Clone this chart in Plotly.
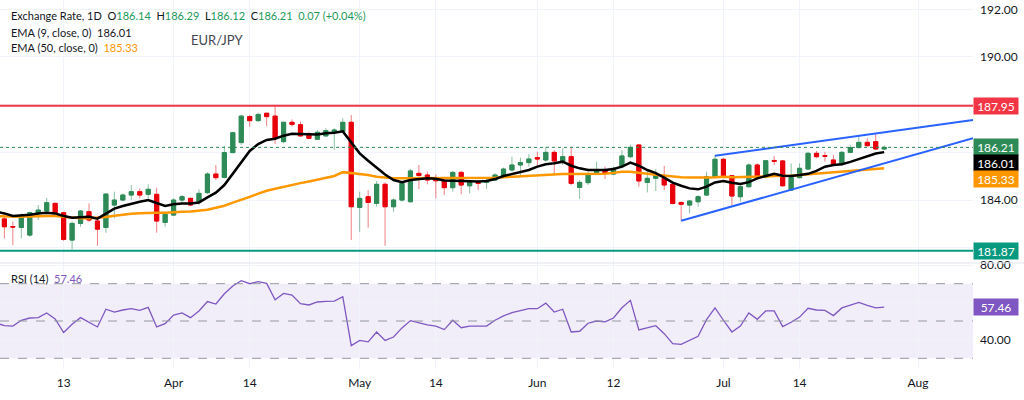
import pandas as pd
import plotly.graph_objects as go
from plotly.subplots import make_subplots

# daily bars, Mar 3 .. Jul 28 (weekdays)
dates = pd.bdate_range("2026-03-03", "2026-07-28").strftime("%Y-%m-%d").tolist()

open_ = [183.35, 183.21, 182.89, 182.85, 182.53, 183.47, 183.54, 183.86, 183.47, 182.32,
         183.02, 183.51, 183.12, 182.85, 183.79, 184.00, 184.21, 184.35, 184.24, 184.24,
         183.06, 183.37, 184.00, 184.07, 183.93, 184.31, 185.09, 184.95, 185.99, 186.41,
         187.50, 187.33, 187.64, 187.52, 186.45, 187.26, 187.16, 186.76, 186.55, 186.69,
         186.84, 186.87, 187.26, 183.69, 184.14, 183.86, 184.66, 183.72, 184.00, 183.93,
         185.12, 185.05, 184.91, 184.80, 184.52, 185.16, 184.60, 184.74, 184.74, 184.84,
         184.98, 185.26, 185.47, 185.57, 185.78, 185.68, 186.00, 185.64, 185.82, 184.53,
         184.73, 185.08, 185.22, 185.09, 185.40, 185.82, 186.31, 184.74, 184.91, 184.91,
         184.66, 183.90, 183.79, 183.93, 184.21, 184.98, 185.71, 185.02, 184.14, 184.56,
         185.47, 184.98, 185.66, 185.64, 184.42, 184.94, 185.30, 185.96, 185.86, 185.68,
         185.50, 186.00, 186.20, 186.42, 186.45, 186.14]
high = [183.55, 183.30, 183.09, 183.44, 183.51, 183.79, 184.10, 183.89, 183.51, 183.09,
        183.58, 183.86, 183.30, 184.28, 184.35, 184.28, 184.63, 184.49, 184.66, 184.52,
        183.51, 184.07, 184.21, 184.11, 184.45, 185.17, 185.47, 186.27, 186.87, 187.57,
        187.57, 187.66, 187.66, 187.99, 187.29, 187.38, 187.29, 186.87, 186.94, 187.01,
        187.01, 187.43, 187.57, 184.35, 184.42, 184.80, 184.74, 184.07, 184.77, 185.30,
        185.47, 185.19, 185.08, 184.91, 185.22, 185.22, 184.84, 184.84, 184.91, 185.12,
        185.36, 185.82, 185.78, 185.92, 186.03, 186.24, 186.10, 186.17, 186.24, 184.84,
        185.19, 185.61, 185.40, 185.40, 186.10, 186.33, 186.34, 185.26, 185.30, 185.43,
        184.70, 183.93, 184.00, 184.21, 185.19, 185.89, 185.75, 185.05, 184.70, 185.54,
        185.54, 185.68, 185.85, 185.68, 185.54, 185.54, 186.03, 186.06, 186.03, 185.89,
        186.06, 186.31, 186.66, 186.59, 186.76, 186.29]
low = [183.05, 182.39, 182.11, 182.39, 182.46, 183.16, 183.47, 183.33, 182.29, 181.93,
       182.88, 183.09, 182.08, 182.63, 183.23, 183.96, 184.00, 184.07, 184.07, 182.63,
       182.88, 183.33, 183.83, 183.76, 183.79, 184.25, 184.84, 184.91, 185.96, 186.31,
       187.08, 187.29, 187.10, 186.35, 186.38, 187.08, 186.66, 186.55, 186.52, 186.66,
       186.10, 186.82, 182.32, 182.67, 182.84, 183.72, 182.08, 183.51, 183.93, 183.90,
       184.46, 184.66, 184.07, 184.21, 184.35, 184.24, 184.28, 184.42, 184.46, 184.80,
       184.94, 185.19, 184.98, 185.40, 185.47, 185.61, 185.12, 185.47, 184.63, 184.04,
       184.63, 185.05, 184.88, 185.05, 185.33, 185.75, 184.56, 184.32, 184.38, 184.42,
       183.82, 183.12, 183.44, 183.72, 184.18, 184.91, 184.94, 183.79, 183.93, 184.52,
       184.91, 184.91, 185.47, 184.56, 184.38, 184.91, 185.26, 185.75, 185.61, 185.47,
       185.44, 185.96, 186.17, 186.24, 186.11, 186.12]
close = [183.19, 182.88, 182.87, 183.30, 183.47, 183.58, 183.89, 183.44, 182.35, 183.02,
         183.54, 183.16, 182.78, 184.25, 184.00, 184.21, 184.35, 184.21, 184.45, 183.12,
         183.40, 184.00, 184.14, 183.79, 184.28, 185.09, 184.94, 185.99, 186.82, 187.52,
         187.33, 187.59, 187.50, 186.59, 187.26, 187.17, 186.69, 186.59, 186.84, 186.91,
         186.94, 187.26, 183.72, 184.07, 183.90, 184.66, 183.72, 184.00, 184.70, 185.22,
         185.03, 184.84, 184.81, 184.52, 185.16, 184.63, 184.77, 184.70, 184.80, 185.05,
         185.30, 185.47, 185.57, 185.72, 185.72, 186.00, 185.64, 185.82, 184.70, 184.74,
         185.09, 185.22, 185.15, 185.33, 185.85, 186.21, 184.80, 184.91, 185.02, 184.63,
         183.86, 183.82, 183.96, 184.14, 184.98, 185.71, 184.98, 184.17, 184.56, 185.47,
         184.98, 185.65, 185.63, 184.60, 184.94, 185.33, 185.96, 185.82, 185.84, 185.51,
         186.00, 186.20, 186.42, 186.28, 186.14, 186.21]

ema9 = [183.51, 183.44, 183.33, 183.34, 183.38, 183.44, 183.47, 183.44, 183.33, 183.26,
        183.29, 183.30, 183.22, 183.44, 183.64, 183.75, 183.85, 183.93, 184.00, 183.86,
        183.75, 183.82, 183.86, 183.86, 183.90, 184.11, 184.31, 184.63, 185.12, 185.61,
        186.06, 186.35, 186.52, 186.57, 186.70, 186.78, 186.77, 186.74, 186.75, 186.80,
        186.82, 186.88, 186.41, 185.96, 185.65, 185.34, 185.07, 184.84, 184.75, 184.84,
        184.89, 184.91, 184.89, 184.82, 184.81, 184.80, 184.78, 184.78, 184.80, 184.88,
        185.01, 185.09, 185.15, 185.26, 185.40, 185.50, 185.54, 185.61, 185.44, 185.33,
        185.26, 185.26, 185.26, 185.30, 185.40, 185.57, 185.44, 185.26, 185.13, 184.94,
        184.73, 184.60, 184.49, 184.45, 184.56, 184.74, 184.80, 184.73, 184.67, 184.75,
        184.91, 185.01, 185.10, 185.02, 185.01, 185.05, 185.10, 185.22, 185.40, 185.47,
        185.50, 185.60, 185.72, 185.84, 185.95, 186.01]
ema50 = [183.33, 183.31, 183.30, 183.30, 183.31, 183.33, 183.33, 183.33, 183.29, 183.26,
         183.24, 183.24, 183.25, 183.29, 183.34, 183.40, 183.43, 183.45, 183.47, 183.47,
         183.47, 183.50, 183.51, 183.52, 183.55, 183.59, 183.68, 183.76, 183.89, 184.00,
         184.13, 184.27, 184.39, 184.47, 184.56, 184.64, 184.71, 184.78, 184.85, 184.92,
         185.01, 185.17, 185.14, 185.10, 185.05, 184.98, 184.94, 184.91, 184.91, 184.91,
         184.91, 184.91, 184.91, 184.91, 184.91, 184.91, 184.91, 184.91, 184.91, 184.94,
         184.96, 184.98, 185.01, 185.03, 185.05, 185.06, 185.08, 185.09, 185.09, 185.09,
         185.09, 185.09, 185.10, 185.14, 185.19, 185.19, 185.16, 185.10, 185.06, 185.02,
         184.98, 184.96, 184.95, 184.94, 184.95, 184.96, 184.98, 184.96, 184.96, 184.98,
         184.99, 184.99, 185.01, 185.01, 185.02, 185.05, 185.08, 185.10, 185.13, 185.17,
         185.20, 185.24, 185.27, 185.30, 185.31, 185.33]
rsi = [49.0, 47.5, 47.3, 50.4, 51.6, 51.8, 54.3, 51.1, 43.8, 48.2,
       51.8, 49.1, 46.8, 56.3, 54.8, 55.9, 56.6, 55.7, 57.3, 46.8,
       48.6, 53.2, 54.3, 51.8, 55.4, 60.4, 59.1, 64.6, 68.8, 71.6,
       70.0, 71.1, 70.2, 61.4, 64.8, 63.9, 59.3, 58.6, 60.2, 60.5,
       60.7, 63.0, 36.8, 39.6, 38.8, 44.1, 39.6, 41.4, 46.3, 50.2,
       48.9, 47.9, 47.3, 45.4, 50.4, 46.4, 47.3, 47.3, 47.3, 50.4,
       52.7, 54.5, 55.4, 56.6, 56.6, 59.6, 54.8, 56.3, 44.1, 44.5,
       48.8, 50.0, 49.5, 51.6, 57.1, 61.1, 45.2, 46.4, 47.5, 43.2,
       37.9, 37.5, 39.5, 41.8, 50.7, 57.0, 50.4, 44.1, 47.3, 54.3,
       50.9, 55.4, 55.4, 47.0, 49.3, 52.1, 56.8, 55.9, 55.7, 52.9,
       57.0, 58.4, 60.0, 58.4, 57.0, 57.46]

resistance = 187.95
support = 181.87
# rising wedge drawn on the chart
upper_x = ["2026-06-30", "2026-08-11 12:00"]
upper_y = [185.86, 187.36]
lower_x = ["2026-06-24", "2026-08-11 12:00"]
lower_y = [183.13, 186.59]

tick_dates = ["2026-03-13", "2026-04-01", "2026-04-14", "2026-05-01", "2026-05-14",
              "2026-06-01", "2026-06-12", "2026-07-01", "2026-07-14", "2026-08-03"]
tick_text = ["13", "Apr", "14", "May", "14", "Jun", "12", "Jul", "14", "Aug"]

UP = "#2E8B57"
DOWN = "#E8000B"
FONT = "Lato"
PLOT_W = 973
PLOT_H = 369
SPLIT = 263

def px(x, y):
    return x / PLOT_W, 1 - y / PLOT_H

body_hi = [max(o, c) for o, c in zip(open_, close)]
body_lo = [min(o, c) for o, c in zip(open_, close)]

fig = make_subplots(rows=2, cols=1, shared_xaxes=True, vertical_spacing=0,
                    row_heights=[SPLIT / PLOT_H, 1 - SPLIT / PLOT_H])

# wicks (lighter) then solid bodies on top
fig.add_trace(go.Candlestick(x=dates, open=open_, high=high, low=low, close=close,
                             increasing=dict(line=dict(color="rgba(46,139,87,0.55)", width=1),
                                             fillcolor="rgba(46,139,87,0.55)"),
                             decreasing=dict(line=dict(color="rgba(232,0,11,0.5)", width=1),
                                             fillcolor="rgba(232,0,11,0.5)"),
                             hoverinfo="skip"), row=1, col=1)
fig.add_trace(go.Candlestick(x=dates, open=open_, high=body_hi, low=body_lo, close=close,
                             increasing=dict(line=dict(color=UP, width=1), fillcolor=UP),
                             decreasing=dict(line=dict(color=DOWN, width=1), fillcolor=DOWN),
                             hoverinfo="skip"), row=1, col=1)
fig.add_trace(go.Scatter(x=dates, y=ema50, mode="lines",
                         line=dict(color="#FF9800", width=2.5)), row=1, col=1)
fig.add_trace(go.Scatter(x=dates, y=ema9, mode="lines",
                         line=dict(color="#000000", width=2.5)), row=1, col=1)
fig.add_trace(go.Scatter(x=upper_x, y=upper_y, mode="lines",
                         line=dict(color="#2962FF", width=2)), row=1, col=1)
fig.add_trace(go.Scatter(x=lower_x, y=lower_y, mode="lines",
                         line=dict(color="#2962FF", width=2)), row=1, col=1)

# RSI pane
fig.add_shape(type="rect", xref="x2 domain", yref="y2", x0=0, x1=1, y0=30, y1=70,
              fillcolor="rgba(126,87,194,0.1)", line=dict(width=0), layer="below")
for lvl in [70, 50, 30]:
    fig.add_shape(type="line", xref="x2 domain", yref="y2", x0=0, x1=1, y0=lvl, y1=lvl,
                  line=dict(color="#9598A1", width=1, dash="dash"))
fig.add_trace(go.Scatter(x=dates, y=rsi, mode="lines",
                         line=dict(color="#7E57C2", width=1.3)), row=2, col=1)

# horizontal levels
fig.add_shape(type="line", xref="x domain", yref="y", x0=0, x1=1, y0=resistance, y1=resistance,
              line=dict(color="#F23645", width=2))
fig.add_shape(type="line", xref="x domain", yref="y", x0=0, x1=1, y0=support, y1=support,
              line=dict(color="#089981", width=2))
fig.add_shape(type="line", xref="x domain", yref="y", x0=0, x1=1, y0=close[-1], y1=close[-1],
              line=dict(color=UP, width=1, dash="dot"))
# pane separator
fig.add_shape(type="line", xref="paper", yref="paper", x0=0, x1=1.06,
              y0=1 - SPLIT / PLOT_H, y1=1 - SPLIT / PLOT_H, line=dict(color="#E0E3EB", width=1))

# price scale labels
def tag(yref, val, color, shift=0):
    fig.add_annotation(xref="paper", yref=yref, x=1, y=val, xanchor="left", yanchor="middle",
                       text=f"{val:.2f}", showarrow=False, bgcolor=color, width=42, height=14,
                       borderpad=1, yshift=shift, font=dict(color="white", size=12, family=FONT))

tag("y", resistance, "#F23645")
tag("y", close[-1], UP)
tag("y", ema9[-1], "#000000", -11)
tag("y", ema50[-1], "#FF9800", -11)
tag("y", support, "#089981")
tag("y2", rsi[-1], "#7E57C2")

# legend text
G = "#22995A"
nb = "\u00a0"
chg = close[-1] - close[-2]
pct = chg / close[-2] * 100
line1 = (f"Exchange Rate, 1D{nb*2}O<span style='color:{G}'>{open_[-1]:.2f}</span>{nb*2}"
         f"H<span style='color:{G}'>{high[-1]:.2f}</span>{nb*2}"
         f"L<span style='color:{G}'>{low[-1]:.2f}</span>{nb*2}"
         f"C<span style='color:{G}'>{close[-1]:.2f}</span>{nb*2}"
         f"<span style='color:{G}'>{chg:.2f} (+{pct:.2f}%)</span>")
line2 = f"EMA (9, close, 0){nb*2}{ema9[-1]:.2f}"
line3 = f"EMA (50, close, 0){nb*2}<span style='color:#FF9800'>{ema50[-1]:.2f}</span>"
line4 = f"RSI (14){nb*2}<span style='color:#7E57C2'>{rsi[-1]:.2f}</span>"
for txt, (xp, yp) in [(line1, (9, 15)), (line2, (9, 32)), (line3, (9, 47)), (line4, (9, 278))]:
    ax, ay = px(xp, yp)
    fig.add_annotation(xref="paper", yref="paper", x=ax, y=ay, xanchor="left", yanchor="middle",
                       text=txt, showarrow=False, font=dict(size=11, color="#131722", family=FONT))
ax, ay = px(189, 40)
fig.add_annotation(xref="paper", yref="paper", x=ax, y=ay, xanchor="left", yanchor="middle",
                   text="EUR/JPY", showarrow=False, font=dict(size=13, color="#434651", family=FONT))

fig.update_xaxes(rangebreaks=[dict(bounds=["sat", "mon"])],
                 range=["2026-03-03 11:30", "2026-08-11 12:00"],
                 tickvals=tick_dates, ticktext=tick_text, showgrid=True, gridcolor="#F0F3FA",
                 zeroline=False, showline=False, ticks="", rangeslider_visible=False,
                 automargin=False, tickfont=dict(size=12, color="#131722", family=FONT))
fig.update_xaxes(ticklabelstandoff=5, row=2, col=1)
fig.update_yaxes(side="right", showgrid=True, gridcolor="#F0F3FA", zeroline=False,
                 showline=False, ticks="", ticklabelstandoff=6, automargin=False,
                 tickfont=dict(size=12, color="#131722", family=FONT))
fig.update_yaxes(range=[181.36, 192.39], tickvals=[182, 184, 186, 188, 190, 192],
                 ticktext=["", "184.00", "", "", "190.00", "192.00"], row=1, col=1)
fig.update_yaxes(range=[24.26, 81.1], tickvals=[40, 60, 80],
                 ticktext=["40.00", "", "80.00"], row=2, col=1)

fig.update_layout(width=1024, height=400,
                  margin=dict(l=0, r=51, t=0, b=31, autoexpand=False),
                  paper_bgcolor="white", plot_bgcolor="white", showlegend=False,
                  font=dict(family=FONT, size=12, color="#131722"))

# the page's default body margin would push the chart off the window
fig.write_html("out.html", config={"displayModeBar": False},
               post_script="document.body.style.margin='0';")
